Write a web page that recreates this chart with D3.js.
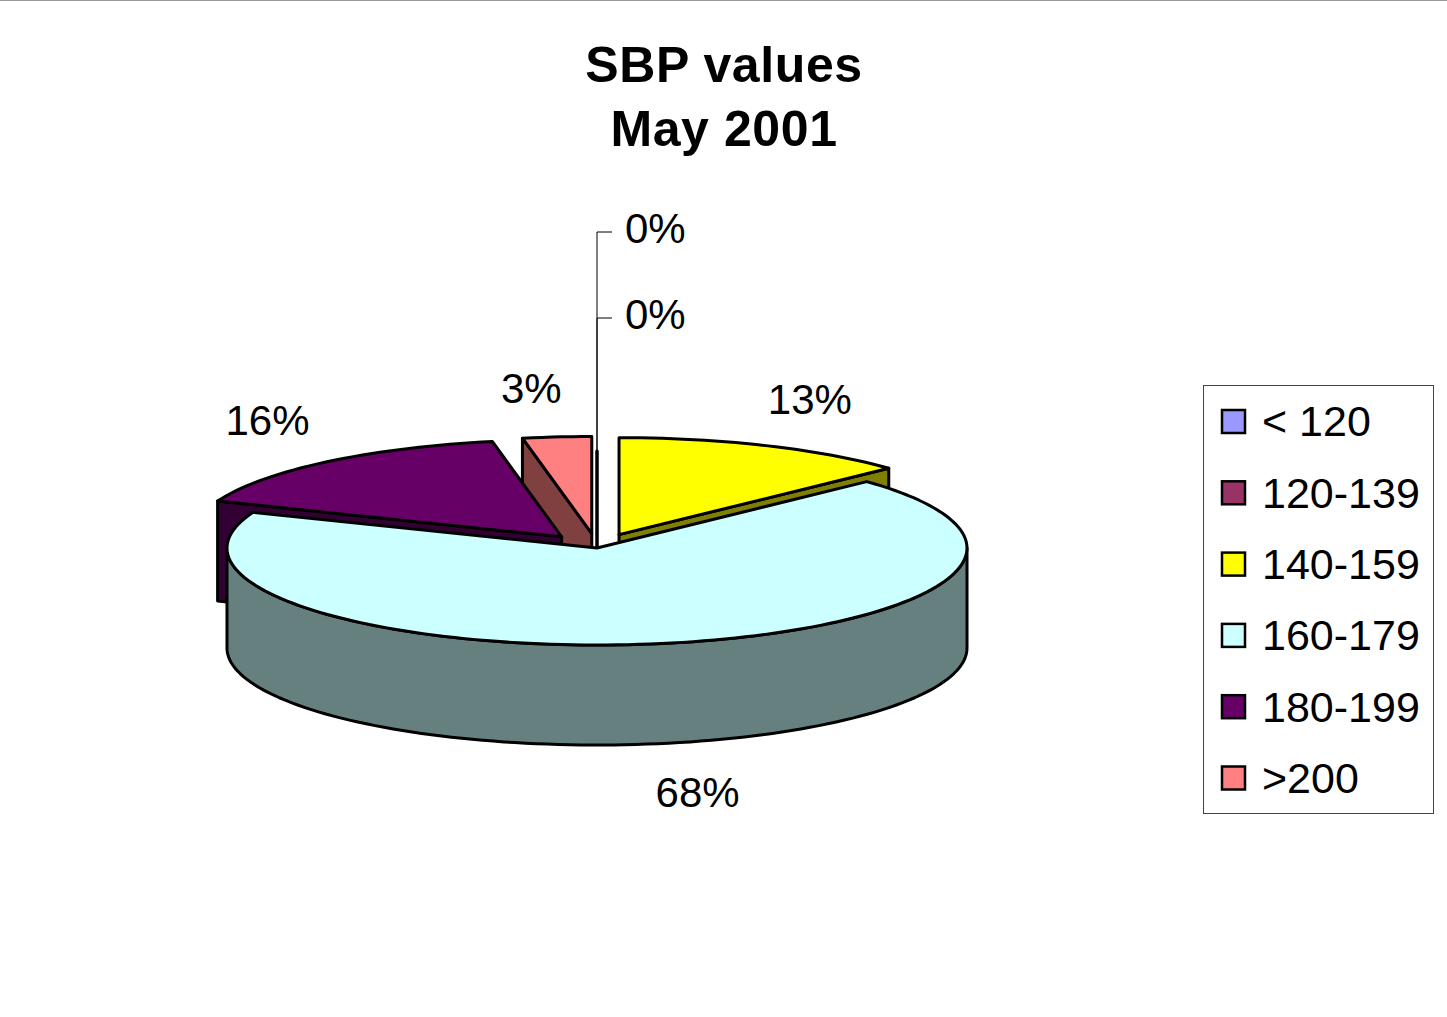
<!DOCTYPE html>
<html>
<head>
<meta charset="utf-8">
<script src="https://cdn.jsdelivr.net/npm/d3@7"></script>
<style>
  body { margin: 0; background: #fff; }
  text { font-family: "Liberation Sans", Arial, sans-serif; }
</style>
</head>
<body>
<div id="chart"></div>
<script>
// SBP categories and share of patients (percent)
const categories = ["< 120", "120-139", "140-159", "160-179", "180-199", ">200"];
const values = [0, 0, 13, 68, 16, 3];
const colors = ["#9999FF", "#993366", "#FFFF00", "#CCFFFF", "#660066", "#FF8080"];
const exploded = ["140-159", "180-199", ">200"];
const titleLines = ["SBP values", "May 2001"];

const width = 1447, height = 1017;
const cx = 597, cy = 548;     // pie centre (top face)
const rx = 370, ry = 97;      // ellipse radii of top face
const depth = 100;            // thickness of the pie
const explodeBy = 0.15;

const svg = d3.select("#chart").append("svg")
    .attr("width", width)
    .attr("height", height);

svg.append("line")
    .attr("x1", 0).attr("x2", width)
    .attr("y1", 0.5).attr("y2", 0.5)
    .attr("stroke", "#999");

// title
svg.append("text")
    .attr("x", 724)
    .attr("y", 82)
    .attr("text-anchor", "middle")
    .attr("font-size", 50)
    .attr("font-weight", "bold")
    .attr("letter-spacing", 0.6)
    .selectAll("tspan")
    .data(titleLines)
    .join("tspan")
    .attr("x", 724)
    .attr("dy", (d, i) => i === 0 ? 0 : 64)
    .text(d => d);

const pie = d3.pie().sort(null).startAngle(0).endAngle(2 * Math.PI);
const arcs = pie(values).map((a, i) => {
    const mid = (a.startAngle + a.endAngle) / 2;
    const e = exploded.includes(categories[i]) ? explodeBy : 0;
    return {
        ...a, i, mid,
        cat: categories[i],
        color: colors[i],
        ax: cx + e * rx * Math.sin(mid),
        ay: cy - e * ry * Math.cos(mid)
    };
});

const shade = c => { const r = d3.rgb(c); return d3.rgb(r.r / 2, r.g / 2, r.b / 2).toString(); };
const pt = (d, t, z = 0) => [d.ax + rx * Math.sin(t), d.ay - ry * Math.cos(t) + z];
const arcPts = (d, t0, t1, z = 0) => {
    const n = Math.max(2, Math.ceil(Math.abs(t1 - t0) / 0.03));
    return d3.range(n + 1).map(k => pt(d, t0 + (t1 - t0) * k / n, z));
};
const line = d3.line();

// back slices first
const order = arcs.slice().sort((a, b) => Math.cos(b.mid) - Math.cos(a.mid));

const g = svg.append("g")
    .attr("stroke", "#000")
    .attr("stroke-width", 3)
    .attr("stroke-linejoin", "round");

order.forEach(d => {
    const s = g.append("g");
    const a0 = d.startAngle, a1 = d.endAngle;
    // outer curved wall, front half only
    const w0 = Math.max(a0, Math.PI / 2), w1 = Math.min(a1, 3 * Math.PI / 2);
    if (w1 > w0) {
        const pts = arcPts(d, w0, w1).concat(arcPts(d, w1, w0, depth));
        s.append("path").attr("d", line(pts) + "Z").attr("fill", shade(d.color));
    }
    // radial walls facing the viewer
    [[a0, Math.sin(a0) < -1e-6], [a1, Math.sin(a1) > 1e-6]].forEach(([t, vis]) => {
        if (!vis) return;
        const p = pt(d, t), q = pt(d, t, depth);
        s.append("path")
            .attr("d", line([[d.ax, d.ay], p, q, [d.ax, d.ay + depth]]) + "Z")
            .attr("fill", shade(d.color));
    });
    // top face
    const top = [[d.ax, d.ay]].concat(arcPts(d, a0, a1));
    s.append("path").attr("d", line(top) + "Z").attr("fill", d.color);
});

// data labels, placed just outside the rim at the slice's mid angle
const fs = 42;
const labels = svg.append("g").attr("font-size", fs);
const zeros = arcs.filter(d => d.value === 0);
arcs.filter(d => d.value > 0).forEach(d => {
    const sn = Math.sin(d.mid), cs = Math.cos(d.mid);
    const [px, py] = pt(d, d.mid, cs < 0 ? depth : 0);
    const x = px + 20 * Math.sign(sn) + 60 * sn;
    const y = py - Math.sign(cs) * (18 + 31 * Math.abs(cs));
    labels.append("text")
        .attr("x", x).attr("y", y)
        .attr("dy", "0.36em")
        .attr("text-anchor", "middle")
        .text(d3.format(".0%")(d.value / d3.sum(values)));
});
zeros.forEach((d, k) => {
    const [px, py] = pt(d, d.mid);
    const ly = py - 133 - 86 * (zeros.length - 1 - k);
    labels.append("path")
        .attr("d", line([[px, py], [px, ly], [px + 15, ly]]))
        .attr("fill", "none")
        .attr("stroke", "#000")
        .attr("stroke-width", 1);
    labels.append("text")
        .attr("x", px + 28).attr("y", ly - 4)
        .attr("dy", "0.36em")
        .text("0%");
});

// legend
const legend = svg.append("g").attr("transform", "translate(1203,385)");
legend.append("rect")
    .attr("x", 0.5).attr("y", 0.5)
    .attr("width", 230).attr("height", 428)
    .attr("fill", "#fff")
    .attr("stroke", "#444")
    .attr("stroke-width", 1);
const item = legend.selectAll("g.item")
    .data(categories)
    .join("g")
    .attr("class", "item")
    .attr("transform", (d, i) => `translate(0,${36 + i * 71.3})`);
item.append("rect")
    .attr("x", 19).attr("y", -11)
    .attr("width", 23).attr("height", 23)
    .attr("fill", (d, i) => colors[i])
    .attr("stroke", "#000")
    .attr("stroke-width", 2.5);
item.append("text")
    .attr("x", 59)
    .attr("dy", "0.36em")
    .attr("font-size", 43)
    .text(d => d);
</script>
</body>
</html>
